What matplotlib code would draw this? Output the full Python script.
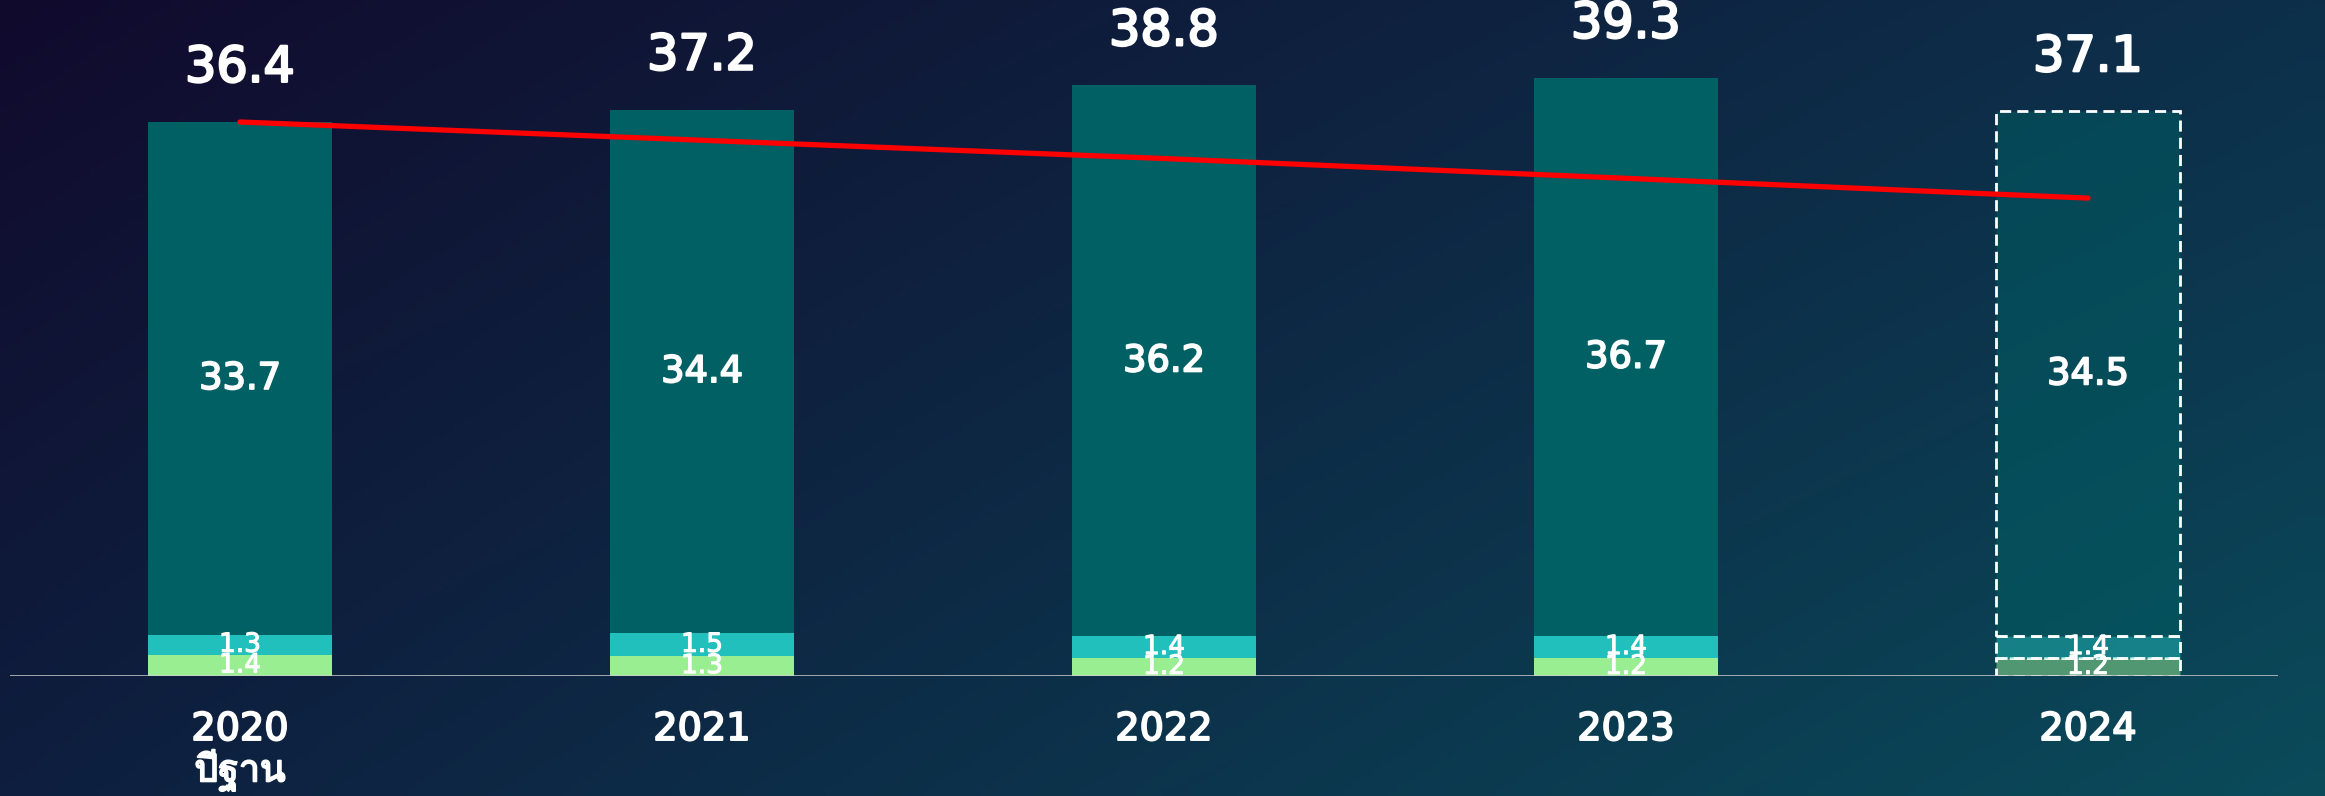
import numpy as np
import matplotlib
matplotlib.use("Agg")
import matplotlib.pyplot as plt
import matplotlib.patheffects as pe
from matplotlib import font_manager
from matplotlib.ft2font import FT2Font

years = ["2020", "2021", "2022", "2023", "2024"]
sub_labels = ["ปีฐาน", "", "", "", ""]
seg_bottom = [1.4, 1.3, 1.2, 1.2, 1.2]
seg_middle = [1.3, 1.5, 1.4, 1.4, 1.4]
seg_top = [33.7, 34.4, 36.2, 36.7, 34.5]
totals = [36.4, 37.2, 38.8, 39.3, 37.1]
target_line = [36.4, 35.2, 34.0, 32.7, 31.4]
projected = [False, False, False, False, True]


def find_thai_font():
    for f in font_manager.fontManager.ttflist:
        try:
            ft = FT2Font(f.fname)
            if 0x0E1B in ft.get_charmap():
                return f.name
        except Exception:
            pass
    return None


thai = find_thai_font()
fam = ["DejaVu Sans"] + ([thai] if thai else [])
plt.rcParams['font.family'] = fam

W, H = 2325, 796
fig = plt.figure(figsize=(W / 100, H / 100), dpi=100)

# background gradient
bg = fig.add_axes([0, 0, 1, 1], zorder=-10)
corners = np.array([[[17, 10, 45], [13, 47, 74]],
                    [[14, 30, 62], [10, 75, 90]]], dtype=float) / 255
bg.imshow(corners, extent=[0, 1, 0, 1], interpolation='bilinear', aspect='auto')
bg.set_xlim(0.25, 0.75)
bg.set_ylim(0.25, 0.75)
bg.axis('off')

left_px, right_px = 10, 2278
base_px = 676
ppu = 15.22
ax = fig.add_axes([left_px / W, (H - base_px) / H, (right_px - left_px) / W, base_px / H])
ax.patch.set_alpha(0)
x = np.arange(len(years))
x0 = (left_px - 240) / 462
x1 = (right_px - 240) / 462
ax.set_xlim(x0, x1)
ax.set_ylim(0, base_px / ppu)
ax.axis('off')


def medium(w):
    return [pe.withStroke(linewidth=w, foreground='white')]


c_bot, c_mid, c_top = '#98ee90', '#22c0bc', '#006064'
bw = 0.40
for i in range(len(years)):
    if projected[i]:
        kw = dict(width=bw, linewidth=2, linestyle=(0, (4, 2.2)), edgecolor='white')
        alpha = 0.5
    else:
        kw = dict(width=bw, linewidth=0)
        alpha = 1.0
    ax.bar(x[i], seg_bottom[i], color=matplotlib.colors.to_rgba(c_bot, alpha), **kw)
    ax.bar(x[i], seg_middle[i], bottom=seg_bottom[i],
           color=matplotlib.colors.to_rgba(c_mid, alpha), **kw)
    ax.bar(x[i], seg_top[i], bottom=seg_bottom[i] + seg_middle[i],
           color=matplotlib.colors.to_rgba(c_top, alpha), **kw)
    ax.text(x[i], seg_bottom[i] / 2, f"{seg_bottom[i]:.1f}", ha='center', va='center',
            color='white', fontsize=19, zorder=6, path_effects=medium(0.8))
    ax.text(x[i], seg_bottom[i] + seg_middle[i] / 2, f"{seg_middle[i]:.1f}", ha='center',
            va='center', color='white', fontsize=19, zorder=6, path_effects=medium(0.8))
    ax.text(x[i], seg_bottom[i] + seg_middle[i] + seg_top[i] / 2, f"{seg_top[i]:.1f}",
            ha='center', va='center', color='white', fontsize=26.5, zorder=6,
            path_effects=medium(1.3))
    ax.annotate(f"{totals[i]:.1f}", (x[i], totals[i]), xytext=(0, 39),
                textcoords='offset points', ha='center', va='center', color='white',
                fontsize=35.5, annotation_clip=False, path_effects=medium(1.7))
    ax.text(x[i], -54 / ppu, years[i], ha='center', va='center', color='white',
            fontsize=27.5, clip_on=False, path_effects=medium(1.4))
    if sub_labels[i]:
        ax.text(x[i], -94 / ppu, sub_labels[i], ha='center', va='center', color='white',
                fontsize=27, clip_on=False, path_effects=medium(1.3))

ax.plot(x, target_line, color='#ff0000', lw=3.8, solid_capstyle='round', zorder=5)
ax.axhline(0, color='#cfcfcf', lw=1.8, zorder=7)

fig.savefig('out.png', dpi=100)
